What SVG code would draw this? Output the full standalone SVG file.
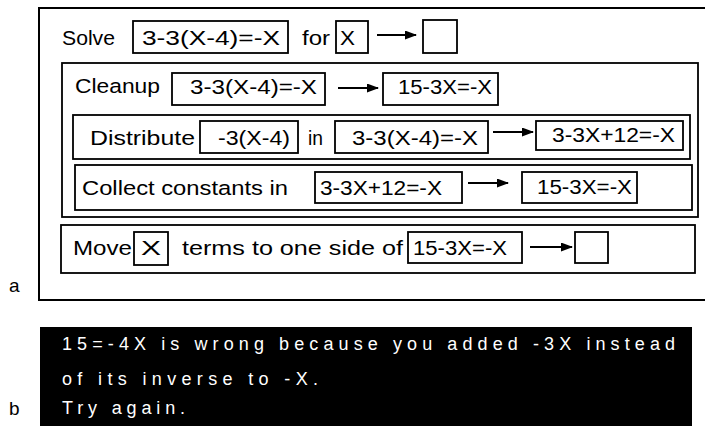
<svg xmlns="http://www.w3.org/2000/svg" width="705" height="426" viewBox="0 0 705 426">
<style>
rect.b{fill:none;stroke:#000;stroke-width:1.8}
rect.o{fill:none;stroke:#000;stroke-width:2}
text{font-family:"Liberation Sans",Arial,sans-serif;font-size:20.5px;fill:#000}
text.w{fill:#fff;font-size:18px}
text.lab{font-size:19px}
.c line{stroke:#000;stroke-width:1.8}
</style>
<defs>
<marker id="ah" markerWidth="12" markerHeight="9" refX="11" refY="4.5" orient="auto" markerUnits="userSpaceOnUse">
<path d="M0,0 L12,4.5 L0,9 Z" fill="#000"/>
</marker>
</defs>
<rect width="705" height="426" fill="#fff"/>

<g id="panel-a">
<rect class="o" x="39" y="8" width="675" height="292"/>
<text class="lab" x="9" y="292">a</text>
</g>

<g id="solve">
<text x="62" y="45" textLength="53" lengthAdjust="spacingAndGlyphs">Solve</text>
<rect class="b" x="133" y="21" width="155" height="32"/>
<text x="142" y="45" textLength="138" lengthAdjust="spacingAndGlyphs">3-3(X-4)=-X</text>
<text x="302" y="45" textLength="28" lengthAdjust="spacingAndGlyphs">for</text>
<rect class="b" x="336" y="21" width="32" height="32"/>
<text x="340" y="45" textLength="15" lengthAdjust="spacingAndGlyphs">X</text>
<rect class="b" x="423" y="20" width="34" height="33"/>
</g>

<g id="cleanup">
<rect class="b" x="62" y="63" width="636" height="154"/>
<text x="75" y="93" textLength="85" lengthAdjust="spacingAndGlyphs">Cleanup</text>
<rect class="b" x="172" y="73" width="153" height="32"/>
<text x="190" y="94" textLength="127" lengthAdjust="spacingAndGlyphs">3-3(X-4)=-X</text>
<rect class="b" x="383" y="73" width="115" height="32"/>
<text x="398" y="94" textLength="94" lengthAdjust="spacingAndGlyphs">15-3X=-X</text>
</g>

<g id="distribute">
<rect class="b" x="73" y="115" width="617" height="44"/>
<text x="90" y="145" textLength="105" lengthAdjust="spacingAndGlyphs">Distribute</text>
<rect class="b" x="200" y="121" width="98" height="32"/>
<text x="218" y="145" textLength="72" lengthAdjust="spacingAndGlyphs">-3(X-4)</text>
<text x="308" y="145" textLength="15" lengthAdjust="spacingAndGlyphs">in</text>
<rect class="b" x="335" y="121" width="153" height="32"/>
<text x="352" y="145" textLength="126" lengthAdjust="spacingAndGlyphs">3-3(X-4)=-X</text>
<rect class="b" x="536" y="121" width="147" height="29"/>
<text x="552" y="142" textLength="123" lengthAdjust="spacingAndGlyphs">3-3X+12=-X</text>
</g>

<g id="collect">
<rect class="b" x="75" y="165" width="617" height="45"/>
<text x="82" y="195" textLength="206" lengthAdjust="spacingAndGlyphs">Collect constants in</text>
<rect class="b" x="315" y="172" width="147" height="31"/>
<text x="320" y="195" textLength="122" lengthAdjust="spacingAndGlyphs">3-3X+12=-X</text>
<rect class="b" x="522" y="172" width="115" height="31"/>
<text x="537" y="194" textLength="95" lengthAdjust="spacingAndGlyphs">15-3X=-X</text>
</g>

<g id="move">
<rect class="b" x="61" y="225" width="634" height="48"/>
<text x="73" y="255" textLength="59" lengthAdjust="spacingAndGlyphs">Move</text>
<rect class="b" x="134" y="232" width="34" height="33"/>
<text x="141" y="255" textLength="20" lengthAdjust="spacingAndGlyphs">X</text>
<text x="182" y="255" textLength="221" lengthAdjust="spacingAndGlyphs">terms to one side of</text>
<rect class="b" x="408" y="232" width="114" height="31"/>
<text x="413" y="255" textLength="94" lengthAdjust="spacingAndGlyphs">15-3X=-X</text>
<rect class="b" x="575" y="232" width="33" height="31"/>
</g>

<g id="connectors" class="c">
<line x1="377" y1="35" x2="416" y2="35" marker-end="url(#ah)"/>
<line x1="338" y1="88" x2="378" y2="88" marker-end="url(#ah)"/>
<line x1="493" y1="132" x2="533" y2="132" marker-end="url(#ah)"/>
<line x1="468" y1="183" x2="508" y2="183" marker-end="url(#ah)"/>
<line x1="530" y1="247" x2="572" y2="247" marker-end="url(#ah)"/>
</g>

<g id="panel-b">
<rect x="40" y="327" width="652" height="105" fill="#000"/>
<text class="w" x="62" y="350" textLength="613" lengthAdjust="spacing">15=-4X is wrong because you added -3X instead</text>
<text class="w" x="62" y="385" textLength="256" lengthAdjust="spacing">of its inverse to -X.</text>
<text class="w" x="62" y="414" textLength="123" lengthAdjust="spacing">Try again.</text>
<text class="lab" x="9" y="415">b</text>
</g>
</svg>
